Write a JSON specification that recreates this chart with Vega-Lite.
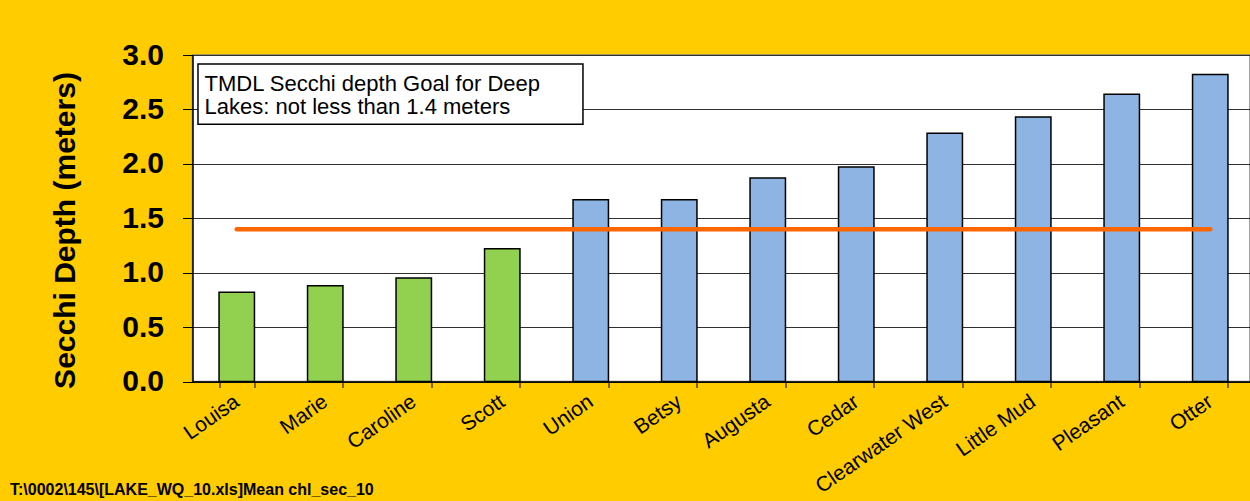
{
  "$schema": "https://vega.github.io/schema/vega-lite/v6.json",
  "width": 1057.5,
  "height": 326.5,
  "autosize": {"type": "none"},
  "padding": {"left": 192.5, "top": 55, "right": 0, "bottom": 119.5},
  "background": "#FFCC00",
  "config": {
    "font": "Liberation Sans",
    "view": {"fill": "white", "stroke": "#808080", "strokeWidth": 1.5}
  },
  "datasets": {
    "lakes": [
      {"lake": "Louisa", "secchi": 0.82, "status": "Below goal", "goal": 1.4},
      {"lake": "Marie", "secchi": 0.88, "status": "Below goal", "goal": 1.4},
      {"lake": "Caroline", "secchi": 0.95, "status": "Below goal", "goal": 1.4},
      {"lake": "Scott", "secchi": 1.22, "status": "Below goal", "goal": 1.4},
      {"lake": "Union", "secchi": 1.67, "status": "Meets goal", "goal": 1.4},
      {"lake": "Betsy", "secchi": 1.67, "status": "Meets goal", "goal": 1.4},
      {"lake": "Augusta", "secchi": 1.87, "status": "Meets goal", "goal": 1.4},
      {"lake": "Cedar", "secchi": 1.97, "status": "Meets goal", "goal": 1.4},
      {"lake": "Clearwater West", "secchi": 2.28, "status": "Meets goal", "goal": 1.4},
      {"lake": "Little Mud", "secchi": 2.43, "status": "Meets goal", "goal": 1.4},
      {"lake": "Pleasant", "secchi": 2.64, "status": "Meets goal", "goal": 1.4},
      {"lake": "Otter", "secchi": 2.82, "status": "Meets goal", "goal": 1.4}
    ]
  },
  "layer": [
    {
      "data": {"name": "lakes"},
      "layer": [
        {
          "mark": {"type": "bar", "stroke": "black", "strokeWidth": 1.5},
          "encoding": {
            "x": {
              "field": "lake",
              "type": "nominal",
              "sort": null,
              "scale": {"range": [0, 1062], "paddingInner": 0.6, "paddingOuter": 0.3},
              "axis": {
                "title": null,
                "tickBand": "extent",
                "tickSize": 6,
                "tickColor": "black",
                "domainColor": "black",
                "domainWidth": 1.5,
                "labelAngle": -35,
                "labelAlign": "right",
                "labelBaseline": "middle",
                "labelPadding": 12,
                "labelFontSize": 21,
                "labelColor": "black",
                "labelOverlap": false,
                "labelBound": false,
                "grid": false
              }
            },
            "y": {
              "field": "secchi",
              "type": "quantitative",
              "scale": {"domain": [0, 3], "nice": false},
              "axis": {
                "title": "Secchi Depth (meters)",
                "titleFontSize": 30,
                "titleFontWeight": "bold",
                "titleColor": "black",
                "titlePadding": 41,
                "titleY": 175,
                "values": [0, 0.5, 1, 1.5, 2, 2.5, 3],
                "format": ".1f",
                "labelFontSize": 30,
                "labelFontWeight": "bold",
                "labelColor": "black",
                "labelPadding": 19,
                "tickSize": 10,
                "tickColor": "black",
                "domainColor": "black",
                "domainWidth": 1.5,
                "grid": true,
                "gridColor": "#303030",
                "gridWidth": 1
              }
            },
            "color": {
              "field": "status",
              "type": "nominal",
              "scale": {"domain": ["Below goal", "Meets goal"], "range": ["#92D050", "#8DB4E2"]},
              "legend": null
            }
          }
        },
        {
          "mark": {"type": "line", "color": "#FF6600", "strokeWidth": 4.5, "strokeCap": "round"},
          "encoding": {
            "x": {"field": "lake", "type": "nominal", "sort": null},
            "y": {"field": "goal", "type": "quantitative"}
          }
        }
      ]
    },
    {
      "data": {"values": [{}]},
      "mark": {"type": "rect", "fill": "white", "stroke": "black", "strokeWidth": 1.5},
      "encoding": {
        "x": {"datum": 0.062, "type": "quantitative", "scale": {"domain": [0, 12], "range": [0, 1062], "nice": false, "zero": false}, "axis": null},
        "x2": {"datum": 4.412},
        "y": {"datum": 2.917, "type": "quantitative"},
        "y2": {"datum": 2.363}
      }
    },
    {
      "data": {"values": [{}]},
      "mark": {
        "type": "text",
        "text": ["TMDL Secchi depth Goal for Deep", "Lakes: not less than 1.4 meters"],
        "align": "left",
        "baseline": "top",
        "fontSize": 22,
        "lineHeight": 23.5,
        "color": "black"
      },
      "encoding": {
        "x": {"datum": 0.136, "type": "quantitative", "scale": {"domain": [0, 12], "range": [0, 1062], "nice": false, "zero": false}, "axis": null},
        "y": {"datum": 2.828, "type": "quantitative"}
      }
    },
    {
      "data": {"values": [{}]},
      "mark": {
        "type": "text",
        "text": "T:\\0002\\145\\[LAKE_WQ_10.xls]Mean chl_sec_10",
        "align": "left",
        "baseline": "alphabetic",
        "fontSize": 16,
        "fontWeight": "bold",
        "color": "black"
      },
      "encoding": {
        "x": {"datum": -2.062, "type": "quantitative", "scale": {"domain": [0, 12], "range": [0, 1062], "nice": false, "zero": false}, "axis": null},
        "y": {"datum": -1.043, "type": "quantitative"}
      }
    }
  ],
  "resolve": {"scale": {"x": "independent"}}
}
